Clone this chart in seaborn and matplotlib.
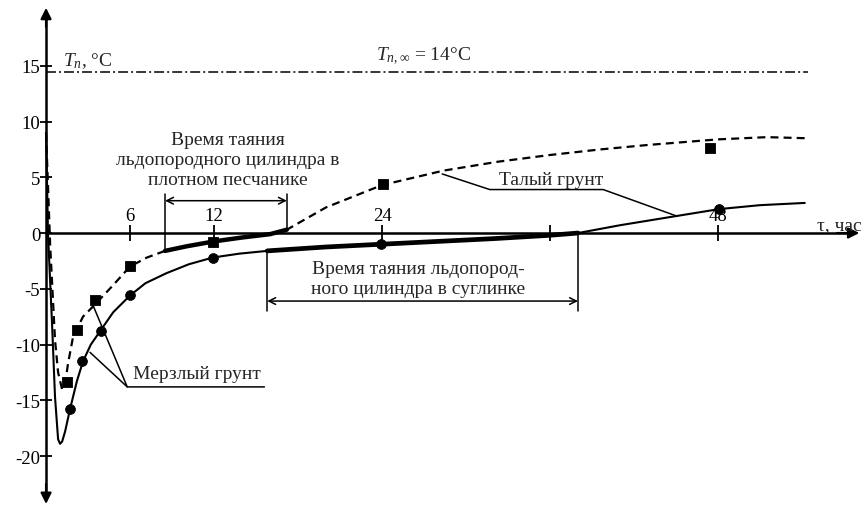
import matplotlib.pyplot as plt
import seaborn as sns

# time, hours / temperature, deg C
loam_hours = [0, 0.14, 0.43, 0.64, 0.86, 1.0, 1.15, 1.36, 1.71, 2.2, 2.64, 3.2, 3.86,
              4.8, 6.0, 7.1, 8.6, 10.2, 11.9, 13.8, 15.8, 20, 24, 28, 32, 36, 38,
              41, 44.9, 48.1, 51, 54.2]
loam_temp = [9, -0.1, -8.2, -14.7, -18.5, -18.9, -18.7, -17.8, -15.8, -13.3, -11.5,
             -10.0, -8.8, -7.1, -5.6, -4.5, -3.6, -2.8, -2.2, -1.85, -1.6, -1.25,
             -1.0, -0.75, -0.5, -0.2, 0, 0.7, 1.5, 2.15, 2.5, 2.7]

sand_hours = [0, 0.29, 0.64, 0.86, 1.14, 1.35, 1.57, 1.93, 2.64, 3.5, 4.7, 6.0, 7.2,
              8.5, 10, 12, 14, 16, 17.2, 20, 24, 28.4, 32.3, 36, 39.6, 43, 48, 51.5,
              54.4]
sand_temp = [9, -1.0, -9.6, -12.5, -14.0, -13.6, -11.7, -9.3, -7.5, -6.4, -4.8, -3.0,
             -2.2, -1.6, -1.2, -0.75, -0.4, -0.1, 0.3, 2.3, 4.3, 5.6, 6.4, 7.0, 7.5,
             7.9, 8.4, 8.6, 8.5]

# measured points
sand_pts_hours = [1.5, 2.2, 3.5, 6.0, 11.9, 24.1, 47.4]
sand_pts_temp = [-13.4, -8.7, -6.0, -3.0, -0.8, 4.4, 7.6]
loam_pts_hours = [1.7, 2.6, 3.9, 6.0, 11.9, 23.9, 48.1]
loam_pts_temp = [-15.8, -11.5, -8.8, -5.6, -2.2, -1.0, 2.2]

# thawing periods, hours
sand_thaw = (8.5, 17.2)
loam_thaw = (15.8, 38.0)

fluid_temp = 14.4
fluid_end = 54.4

x_ticks = [6, 12, 24, 36, 48]
x_tick_labels = ["6", "12", "24", "", "48"]
y_ticks = [15, 10, 5, 0, -5, -10, -15, -20]
y_tick_labels = ["15", "10", "5", "0", "-5", "-10", "-15", "-20"]

sns.set_theme(style="white")
plt.rcParams["font.family"] = ["Liberation Serif", "DejaVu Serif"]
plt.rcParams["mathtext.fontset"] = "custom"
plt.rcParams["mathtext.rm"] = "Liberation Serif"
plt.rcParams["mathtext.it"] = "Liberation Serif:italic"
plt.rcParams["axes.unicode_minus"] = False

fig = plt.figure(figsize=(8.64, 5.10), dpi=100)
ax = fig.add_axes([0, 0, 1, 1])
ax.set_xlim(-3.29, 58.43)
ax.set_ylim(-24.75, 20.99)

# axes through the origin
for side in ["right", "bottom"]:
    ax.spines[side].set_visible(False)
ax.spines["left"].set_position(("data", 0))
ax.spines["top"].set_position(("data", 0))
ax.spines["left"].set_bounds(-23.5, 19.5)
ax.spines["top"].set_bounds(0, 57.3)
for side in ["left", "top"]:
    ax.spines[side].set_color("black")
    ax.spines[side].set_linewidth(1.8)
ax.xaxis.tick_top()
ax.set_xticks(x_ticks)
ax.set_xticklabels(x_tick_labels)
ax.set_yticks(y_ticks)
ax.set_yticklabels(y_tick_labels)
ax.tick_params(axis="x", direction="inout", length=11, width=1.3, pad=1,
               labelsize=13.5, colors="black", top=True, bottom=False)
ax.tick_params(axis="y", direction="inout", length=8.5, width=1.3, pad=0,
               labelsize=13.5, colors="black", left=True)

arrow = dict(arrowstyle="-|>", color="black", lw=1.6, mutation_scale=16,
             shrinkA=0, shrinkB=0)
ax.annotate("", xy=(0, 20.2), xytext=(0, 18.5), arrowprops=arrow)
ax.annotate("", xy=(0, -24.3), xytext=(0, -22.5), arrowprops=arrow)
ax.annotate("", xy=(58.1, 0), xytext=(56.5, 0), arrowprops=arrow)

# curves
sns.lineplot(x=sand_hours, y=sand_temp, ax=ax, color="black", linewidth=1.6,
             linestyle=(0, (3.6, 2.3)), sort=False, estimator=None)
sns.lineplot(x=loam_hours, y=loam_temp, ax=ax, color="black", linewidth=1.5,
             sort=False, estimator=None)

sand_bold = [(h, t) for h, t in zip(sand_hours, sand_temp) if sand_thaw[0] <= h <= sand_thaw[1]]
loam_bold = [(h, t) for h, t in zip(loam_hours, loam_temp) if loam_thaw[0] <= h <= loam_thaw[1]]
sns.lineplot(x=[p[0] for p in sand_bold], y=[p[1] for p in sand_bold], ax=ax,
             color="black", linewidth=3.2, sort=False, estimator=None)
sns.lineplot(x=[p[0] for p in loam_bold], y=[p[1] for p in loam_bold], ax=ax,
             color="black", linewidth=3.4, sort=False, estimator=None)

sns.scatterplot(x=sand_pts_hours, y=sand_pts_temp, ax=ax, marker="s", s=58,
                color="black", edgecolor="black", zorder=5)
sns.scatterplot(x=loam_pts_hours, y=loam_pts_temp, ax=ax, marker="o", s=50,
                color="black", edgecolor="black", zorder=5)

# fluid temperature
ax.plot([0, fluid_end], [fluid_temp, fluid_temp], color="black", lw=1.1,
        linestyle=(0, (6.5, 2, 1.3, 2)))

# thawing time brackets
thin = dict(color="black", lw=1.1)
ax.plot([sand_thaw[0]] * 2, [3.5, -1.6], **thin)
ax.plot([sand_thaw[1]] * 2, [3.5, 0.3], **thin)
ax.annotate("", xy=(sand_thaw[1], 2.9), xytext=(sand_thaw[0], 2.9),
            arrowprops=dict(arrowstyle="<->", lw=1.1, color="black",
                            shrinkA=0, shrinkB=0, mutation_scale=12))
ax.plot([loam_thaw[0]] * 2, [-1.6, -7.0], **thin)
ax.plot([loam_thaw[1]] * 2, [0, -7.0], **thin)
ax.annotate("", xy=(loam_thaw[1], -6.1), xytext=(loam_thaw[0], -6.1),
            arrowprops=dict(arrowstyle="<->", lw=1.1, color="black",
                            shrinkA=0, shrinkB=0, mutation_scale=12))

# leaders
ax.plot([28.3, 31.7, 39.8, 45.1], [5.3, 3.9, 3.9, 1.5], **thin)
ax.plot([3.36, 5.8, 15.6], [-6.5, -13.8, -13.8], **thin)
ax.plot([3.14, 5.8], [-10.7, -13.8], **thin)

fs = 14
ax.text(1.2, 15.5, r"$T_{п}$, °C", fontsize=fs, ha="left", va="center")
ax.text(27.0, 15.9, r"$T_{п,\infty}$ = 14°C", fontsize=fs, ha="center", va="center")
ax.text(13.0, 6.6, "Время таяния\nльдопородного цилиндра в\nплотном песчанике",
        fontsize=fs, ha="center", va="center", linespacing=1.2)
ax.text(36.1, 4.8, "Талый грунт", fontsize=fs, ha="center", va="center")
ax.text(26.6, -4.1, "Время таяния льдопород-\nного цилиндра в суглинке",
        fontsize=fs, ha="center", va="center", linespacing=1.2)
ax.text(10.8, -12.6, "Мерзлый грунт", fontsize=fs, ha="center", va="center")
ax.text(58.3, 0.8, "τ, час", fontsize=fs, ha="right", va="center")

fig.savefig("out.png", dpi=100)
